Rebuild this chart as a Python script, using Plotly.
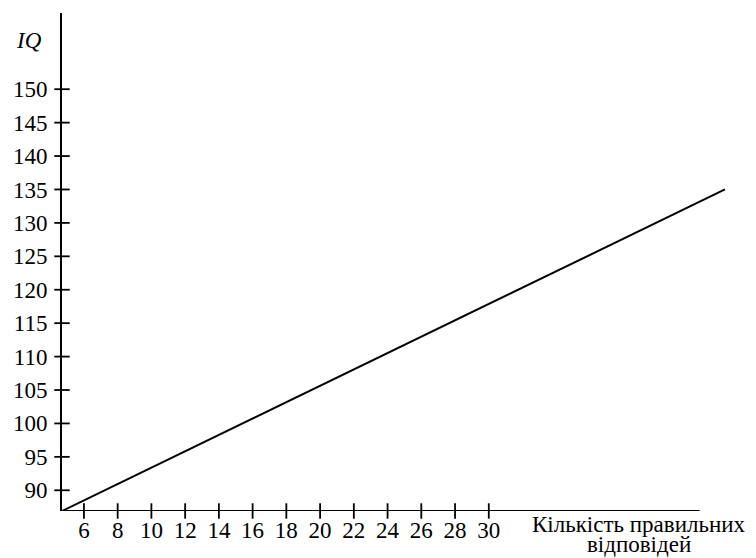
import plotly.graph_objects as go

# Data
x_ticks = [6, 8, 10, 12, 14, 16, 18, 20, 22, 24, 26, 28, 30]
y_ticks = [90, 95, 100, 105, 110, 115, 120, 125, 130, 135, 140, 145, 150]
line_x = [4.7, 44.0]
line_y = [86.9, 135.0]
x_axis_end = 42.5
x_range = [4.7, 44.3]
y_range = [86.9, 161.4]
x_title_lines = ["Кількість правильних", "відповідей"]
y_title = "IQ"

FONT = "Liberation Serif, Times New Roman, serif"
tick_size = 23
title_size = 23

# plot area geometry (pixels)
L, R, T, B = 51.5, 34.3, 5, 55
W, H = 756, 558
pw, ph = W - L - R, H - T - B


def px_to_paper_y(ypx):
    return (H - B - ypx) / ph


def px_to_paper_x(xpx):
    return (xpx - L) / pw


fig = go.Figure()

# main line
fig.add_trace(go.Scatter(x=line_x, y=line_y, mode="lines",
                         line=dict(color="black", width=2),
                         cliponaxis=False, hoverinfo="skip"))
# crossing tick marks on x axis
fig.add_trace(go.Scatter(x=x_ticks, y=[y_range[0]] * len(x_ticks), mode="markers",
                         marker=dict(symbol="line-ns", size=11,
                                     line=dict(color="black", width=1.8)),
                         cliponaxis=False, hoverinfo="skip"))
# crossing tick marks on y axis
fig.add_trace(go.Scatter(x=[x_range[0]] * len(y_ticks), y=y_ticks, mode="markers",
                         marker=dict(symbol="line-ew", size=11,
                                     line=dict(color="black", width=1.8)),
                         cliponaxis=False, hoverinfo="skip"))

# x axis line (stops before the end of the data line)
fig.add_shape(type="line", xref="x", yref="y",
              x0=x_range[0], x1=x_axis_end, y0=y_range[0], y1=y_range[0],
              line=dict(color="black", width=2))

annotations = [
    dict(text=y_title, xref="paper", yref="paper", x=0, y=px_to_paper_y(32),
         xanchor="right", yanchor="middle", xshift=-18, showarrow=False,
         font=dict(family=FONT, size=tick_size, color="black", style="italic")),
]
for txt, ypx in zip(x_title_lines, [516, 536]):
    annotations.append(dict(text=txt, xref="paper", yref="paper",
                            x=px_to_paper_x(630), y=px_to_paper_y(ypx),
                            xanchor="center", yanchor="middle", showarrow=False,
                            borderpad=0,
                            font=dict(family=FONT, size=title_size, color="black")))

fig.update_layout(
    width=W, height=H,
    margin=dict(l=L, r=R, t=T, b=B),
    paper_bgcolor="white", plot_bgcolor="white",
    showlegend=False,
    font=dict(family=FONT, size=tick_size, color="black"),
    xaxis=dict(range=x_range, tickvals=x_ticks, ticktext=[str(v) for v in x_ticks],
               showgrid=False, zeroline=False, showline=False, ticks="",
               ticklabelstandoff=3),
    yaxis=dict(range=y_range, tickvals=y_ticks, ticktext=[str(v) for v in y_ticks],
               showgrid=False, zeroline=False, showline=True, linecolor="black",
               linewidth=2, ticks="", ticklabelstandoff=8),
    annotations=annotations,
)

fig.write_html("out.html")
